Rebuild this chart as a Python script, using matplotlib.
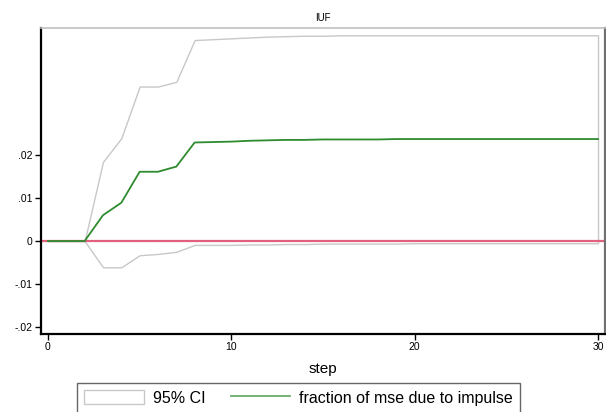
import numpy as np
import matplotlib
matplotlib.use("Agg")
import matplotlib.pyplot as plt
from matplotlib.patches import Patch
from matplotlib.lines import Line2D

plt.rcParams['font.family'] = ['Liberation Sans', 'DejaVu Sans']

# impulse response data
steps = list(range(31))
fraction = [0, 0, 0, 0.0060, 0.0089, 0.0161, 0.0161, 0.0173, 0.0229, 0.0230,
            0.0231, 0.0233, 0.0234, 0.0235, 0.0235, 0.0236, 0.0236, 0.0236, 0.0236, 0.0237,
            0.0237, 0.0237, 0.0237, 0.0237, 0.0237, 0.0237, 0.0237, 0.0237, 0.0237, 0.0237, 0.0237]
ci_upper = [0, 0, 0, 0.0184, 0.0239, 0.0359, 0.0359, 0.0370, 0.0467, 0.0469,
            0.0471, 0.0473, 0.0475, 0.0476, 0.0477, 0.0477, 0.0478, 0.0478, 0.0478, 0.0478,
            0.0478, 0.0478, 0.0478, 0.0478, 0.0478, 0.0478, 0.0478, 0.0478, 0.0478, 0.0478, 0.0478]
ci_lower = [0, 0, 0, -0.0061, -0.0061, -0.0033, -0.0030, -0.0025, -0.0009, -0.0009,
            -0.0009, -0.0008, -0.0008, -0.0007, -0.0007, -0.0006, -0.0006, -0.0006, -0.0006, -0.0006,
            -0.0005, -0.0005, -0.0005, -0.0005, -0.0005, -0.0005, -0.0005, -0.0005, -0.0005, -0.0005, -0.0005]
yticks = [-0.02, -0.01, 0, 0.01, 0.02]
ytick_labels = ['-.02', '-.01', '0', '.01', '.02']
xticks = [0, 10, 20, 30]

W, H = 606, 412
fig = plt.figure(figsize=(W / 100, H / 100), dpi=100)
ax = fig.add_axes([41 / W, 1 - 334 / H, (605 - 41) / W, (334 - 28) / H])

# CI band: white fill, light grey outline
ax.fill_between(steps, ci_lower, ci_upper, facecolor='white', edgecolor='#c8c8c8', linewidth=1.0, zorder=1)
ax.axhline(0, color='#e0607e', linewidth=1.6, zorder=2)
ax.plot(steps, fraction, color='#2e8b2e', linewidth=1.3, zorder=3)

ax.set_xlim(-0.38, 30.38)
ax.set_ylim(-0.0216, 0.0495)
ax.set_xticks(xticks)
ax.set_yticks(yticks)
ax.set_yticklabels(ytick_labels)
ax.tick_params(axis='both', direction='out', length=4, width=1, labelsize=7.5, colors='black', pad=2)

for side in ['left', 'bottom']:
    ax.spines[side].set_color('black')
    ax.spines[side].set_linewidth(1.6)
ax.spines['top'].set_color('#c0c0c0')
ax.spines['top'].set_linewidth(1.2)
ax.spines['right'].set_color('#707070')
ax.spines['right'].set_linewidth(1.6)

ax.set_title('IUF', fontsize=7, pad=5)
ax.set_xlabel('step', fontsize=11, labelpad=7)

handles = [Patch(facecolor='white', edgecolor='#c8c8c8', linewidth=1.0),
           Line2D([0], [0], color='#2e8b2e', linewidth=1.3, alpha=0.7)]
labels = ['95% CI', 'fraction of mse due to impulse']
leg = fig.legend(handles, labels, loc='upper left', bbox_to_anchor=(77 / W, 1 - 383 / H),
                 ncol=2, fontsize=11.5, frameon=True, fancybox=False, handlelength=3.75,
                 handleheight=1.0, handletextpad=0.56, columnspacing=1.56, borderpad=0.45,
                 borderaxespad=0)
leg.get_frame().set_edgecolor('#404040')
leg.get_frame().set_linewidth(1.0)

fig.savefig('out.png', dpi=100)
